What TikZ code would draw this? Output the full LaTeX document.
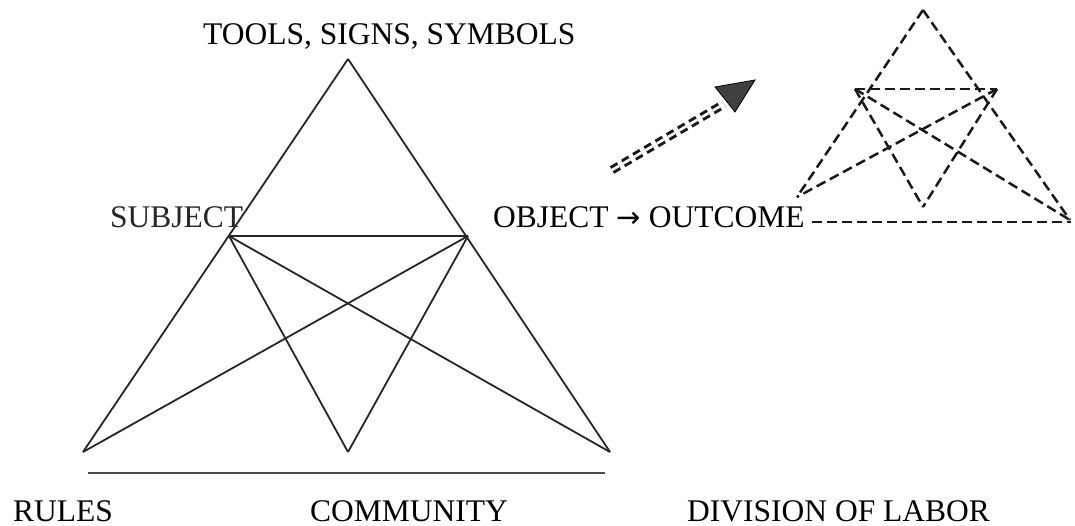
\documentclass[tikz,border=0pt]{standalone}
\usepackage{fontspec}
\setmainfont{Liberation Serif}
\newfontfamily\symfont{DejaVu Sans}
\begin{document}
\begin{tikzpicture}[x=1pt,y=-1pt,
  lbl/.style={inner sep=0pt, anchor=base west, font=\fontsize{31.5}{36}\selectfont},
  solidline/.style={line width=1.8pt, draw=black!85},
  baseline/.style={line width=2.4pt, draw=black!70},
  dashline/.style={line width=2.5pt, draw=black!90, dash pattern=on 10pt off 5pt},
  dblarrow/.style={line width=3pt, double distance=2.6pt, draw=black!90, dash pattern=on 8pt off 5pt},
  headfill/.style={fill=black!75, draw=black, line width=0.8pt, line join=miter}]
\useasboundingbox (0,0) rectangle (1075,526);
% labels
\node[lbl] (tools) at (203,45) {TOOLS, SIGNS, SYMBOLS};
\node[lbl, text=black!85] (subj) at (110,228) {SUBJECT};
\node[lbl] (obj) at (493,228) {OBJECT {\symfont\fontsize{29}{32}\selectfont →} OUTCOME};
\node[lbl] (rules) at (13,521) {RULES};
\node[lbl] (comm) at (310,521) {COMMUNITY};
\node[lbl] (div) at (687,521) {DIVISION OF LABOR};
% main triangle vertices
\coordinate (T) at (348,59);
\coordinate (S) at (229,236);
\coordinate (O) at (468,236);
\coordinate (BL) at (83,452);
\coordinate (C) at (348,452);
\coordinate (BR) at (610,452);
\coordinate (L1) at (88,473);
\coordinate (L2) at (605,473);
\draw[solidline] (T) -- (BL);
\draw[solidline] (T) -- (BR);
\draw[solidline] (S) -- (O);
\draw[solidline] (S) -- (C);
\draw[solidline] (O) -- (C);
\draw[solidline] (S) -- (BR);
\draw[solidline] (O) -- (BL);
\draw[baseline] (L1) -- (L2);
% dashed triangle
\coordinate (dA) at (923,10);
\coordinate (dUL) at (855,89);
\coordinate (dUR) at (997,89);
\coordinate (dBL) at (797,197);
\coordinate (dBM) at (923,207);
\coordinate (dBR) at (1070,220);
\coordinate (dL) at (812,222);
\coordinate (dR) at (1071,222);
\draw[dashline] (dA) -- (dBL);
\draw[dashline] (dA) -- (dBR);
\draw[dashline] (dUL) -- (dUR);
\draw[dashline] (dUL) -- (dBM);
\draw[dashline] (dUR) -- (dBM);
\draw[dashline] (dUL) -- (dBR);
\draw[dashline] (dUR) -- (dBL);
\draw[dashline] (dL) -- (dR);
% double dashed arrow
\coordinate (a1) at (612,170);
\coordinate (a2) at (724,104);
\coordinate (hT) at (755,80);
\coordinate (h1) at (715,87);
\coordinate (h2) at (735,112);
\draw[dblarrow] (a1) -- (a2);
\filldraw[headfill] (h1) -- (hT) -- (h2) -- cycle;
\end{tikzpicture}
\end{document}
